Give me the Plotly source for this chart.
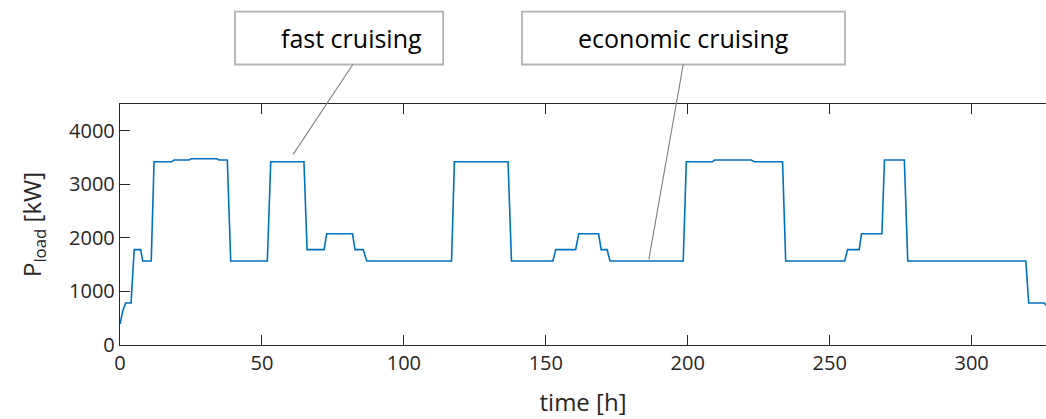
import plotly.graph_objects as go

# load profile over the voyage: time [h] and demanded power [kW]
time_h = [0, 1, 2, 3.9, 5.0, 7.3, 8.0, 11.0, 12.0, 18.2, 19.0, 24.3, 25.2, 34.0, 34.9,
          37.8, 39.0, 51.9, 53.1, 64.8, 65.9, 71.9, 72.8, 81.9, 82.8, 85.7, 86.9,
          116.8, 117.8, 136.7, 137.9, 152.5, 153.5, 160.5, 161.6, 168.6, 169.5,
          171.6, 172.6, 198.4, 199.5, 208.7, 209.4, 222.3, 223.5, 233.4, 234.5,
          255.3, 256.3, 260.4, 261.2, 268.4, 269.3, 276.3, 277.5, 319.1, 320.1,
          325.6, 326.2]
p_load_kw = [390, 640, 784, 784, 1780, 1780, 1568, 1568, 3421, 3421, 3453, 3453, 3477, 3477, 3453,
             3453, 1568, 1568, 3421, 3421, 1780, 1780, 2077, 2077, 1780, 1780, 1568,
             1568, 3421, 3421, 1568, 1568, 1780, 1780, 2077, 2077, 1780,
             1780, 1568, 1568, 3421, 3421, 3453, 3453, 3421, 3421, 1568,
             1568, 1780, 1780, 2077, 2077, 3453, 3453, 1568, 1568, 784,
             784, 740]

x_ticks = [0, 50, 100, 150, 200, 250, 300]
y_ticks = [0, 1000, 2000, 3000, 4000]
x_range = [0, 326.2]
y_range = [0, 4500]

# callouts: label, point on the curve, box extent and text centre (paper coords),
# connector start on the time axis
callout_labels = ["fast cruising", "economic cruising"]
callout_points = [(61.0, 3560), (186.3, 1600)]
callout_boxes = [(0.1242, 0.349), (0.4341, 0.7829)]
callout_text_x = [0.2505, 0.6085]
callout_starts = [82.0, 198.4]
box_y = (1.164, 1.383)

FONT = "Open Sans"
AXIS_COLOR = "#262626"

fig = go.Figure()
fig.add_trace(go.Scatter(
    x=time_h, y=p_load_kw, mode="lines",
    line=dict(color="#0072BD", width=1.6),
    showlegend=False, hoverinfo="skip",
))

for label, (px, py), (bx0, bx1), tx, sx in zip(callout_labels, callout_points,
                                               callout_boxes, callout_text_x,
                                               callout_starts):
    fig.add_shape(type="rect", xref="paper", yref="paper",
                  x0=bx0, x1=bx1, y0=box_y[0], y1=box_y[1],
                  line=dict(color="#b4b4b4", width=1.8), fillcolor="white", layer="above")
    fig.add_annotation(xref="paper", yref="paper", x=tx,
                       y=(box_y[0] + box_y[1]) / 2, text=label, showarrow=False,
                       font=dict(family=FONT, size=25, color="#000000"),
                       xanchor="center", yanchor="middle")
    # connector from the bottom of the box down to the curve
    fig.add_shape(type="line", xref="x", yref="paper",
                  x0=sx, y0=box_y[0], x1=px, y1=py / y_range[1],
                  line=dict(color="#7f7f7f", width=1.1), layer="above")

fig.update_layout(
    width=1046, height=419,
    margin=dict(l=120, r=0, t=104, b=74),
    paper_bgcolor="white", plot_bgcolor="white",
    font=dict(family=FONT, size=20, color=AXIS_COLOR),
)
fig.update_xaxes(
    range=x_range, tickvals=x_ticks, ticktext=[str(v) for v in x_ticks],
    showgrid=False, zeroline=False,
    showline=True, linecolor=AXIS_COLOR, linewidth=1.4, mirror="ticks",
    ticks="inside", ticklen=10, tickwidth=1.4, tickcolor=AXIS_COLOR,
    tickfont=dict(family=FONT, size=20, color=AXIS_COLOR),
    title=dict(text="time [h]", font=dict(family=FONT, size=24, color=AXIS_COLOR), standoff=18),
)
fig.update_yaxes(
    range=y_range, tickvals=y_ticks, ticktext=[str(v) for v in y_ticks],
    showgrid=False, zeroline=False,
    showline=True, linecolor=AXIS_COLOR, linewidth=1.4, mirror=False,
    ticks="inside", ticklen=10, tickwidth=1.4, tickcolor=AXIS_COLOR,
    tickfont=dict(family=FONT, size=20, color=AXIS_COLOR),
    title=dict(text="P<sub>load</sub> [kW]", font=dict(family=FONT, size=24, color=AXIS_COLOR), standoff=20),
)

fig.write_html("out.html")
